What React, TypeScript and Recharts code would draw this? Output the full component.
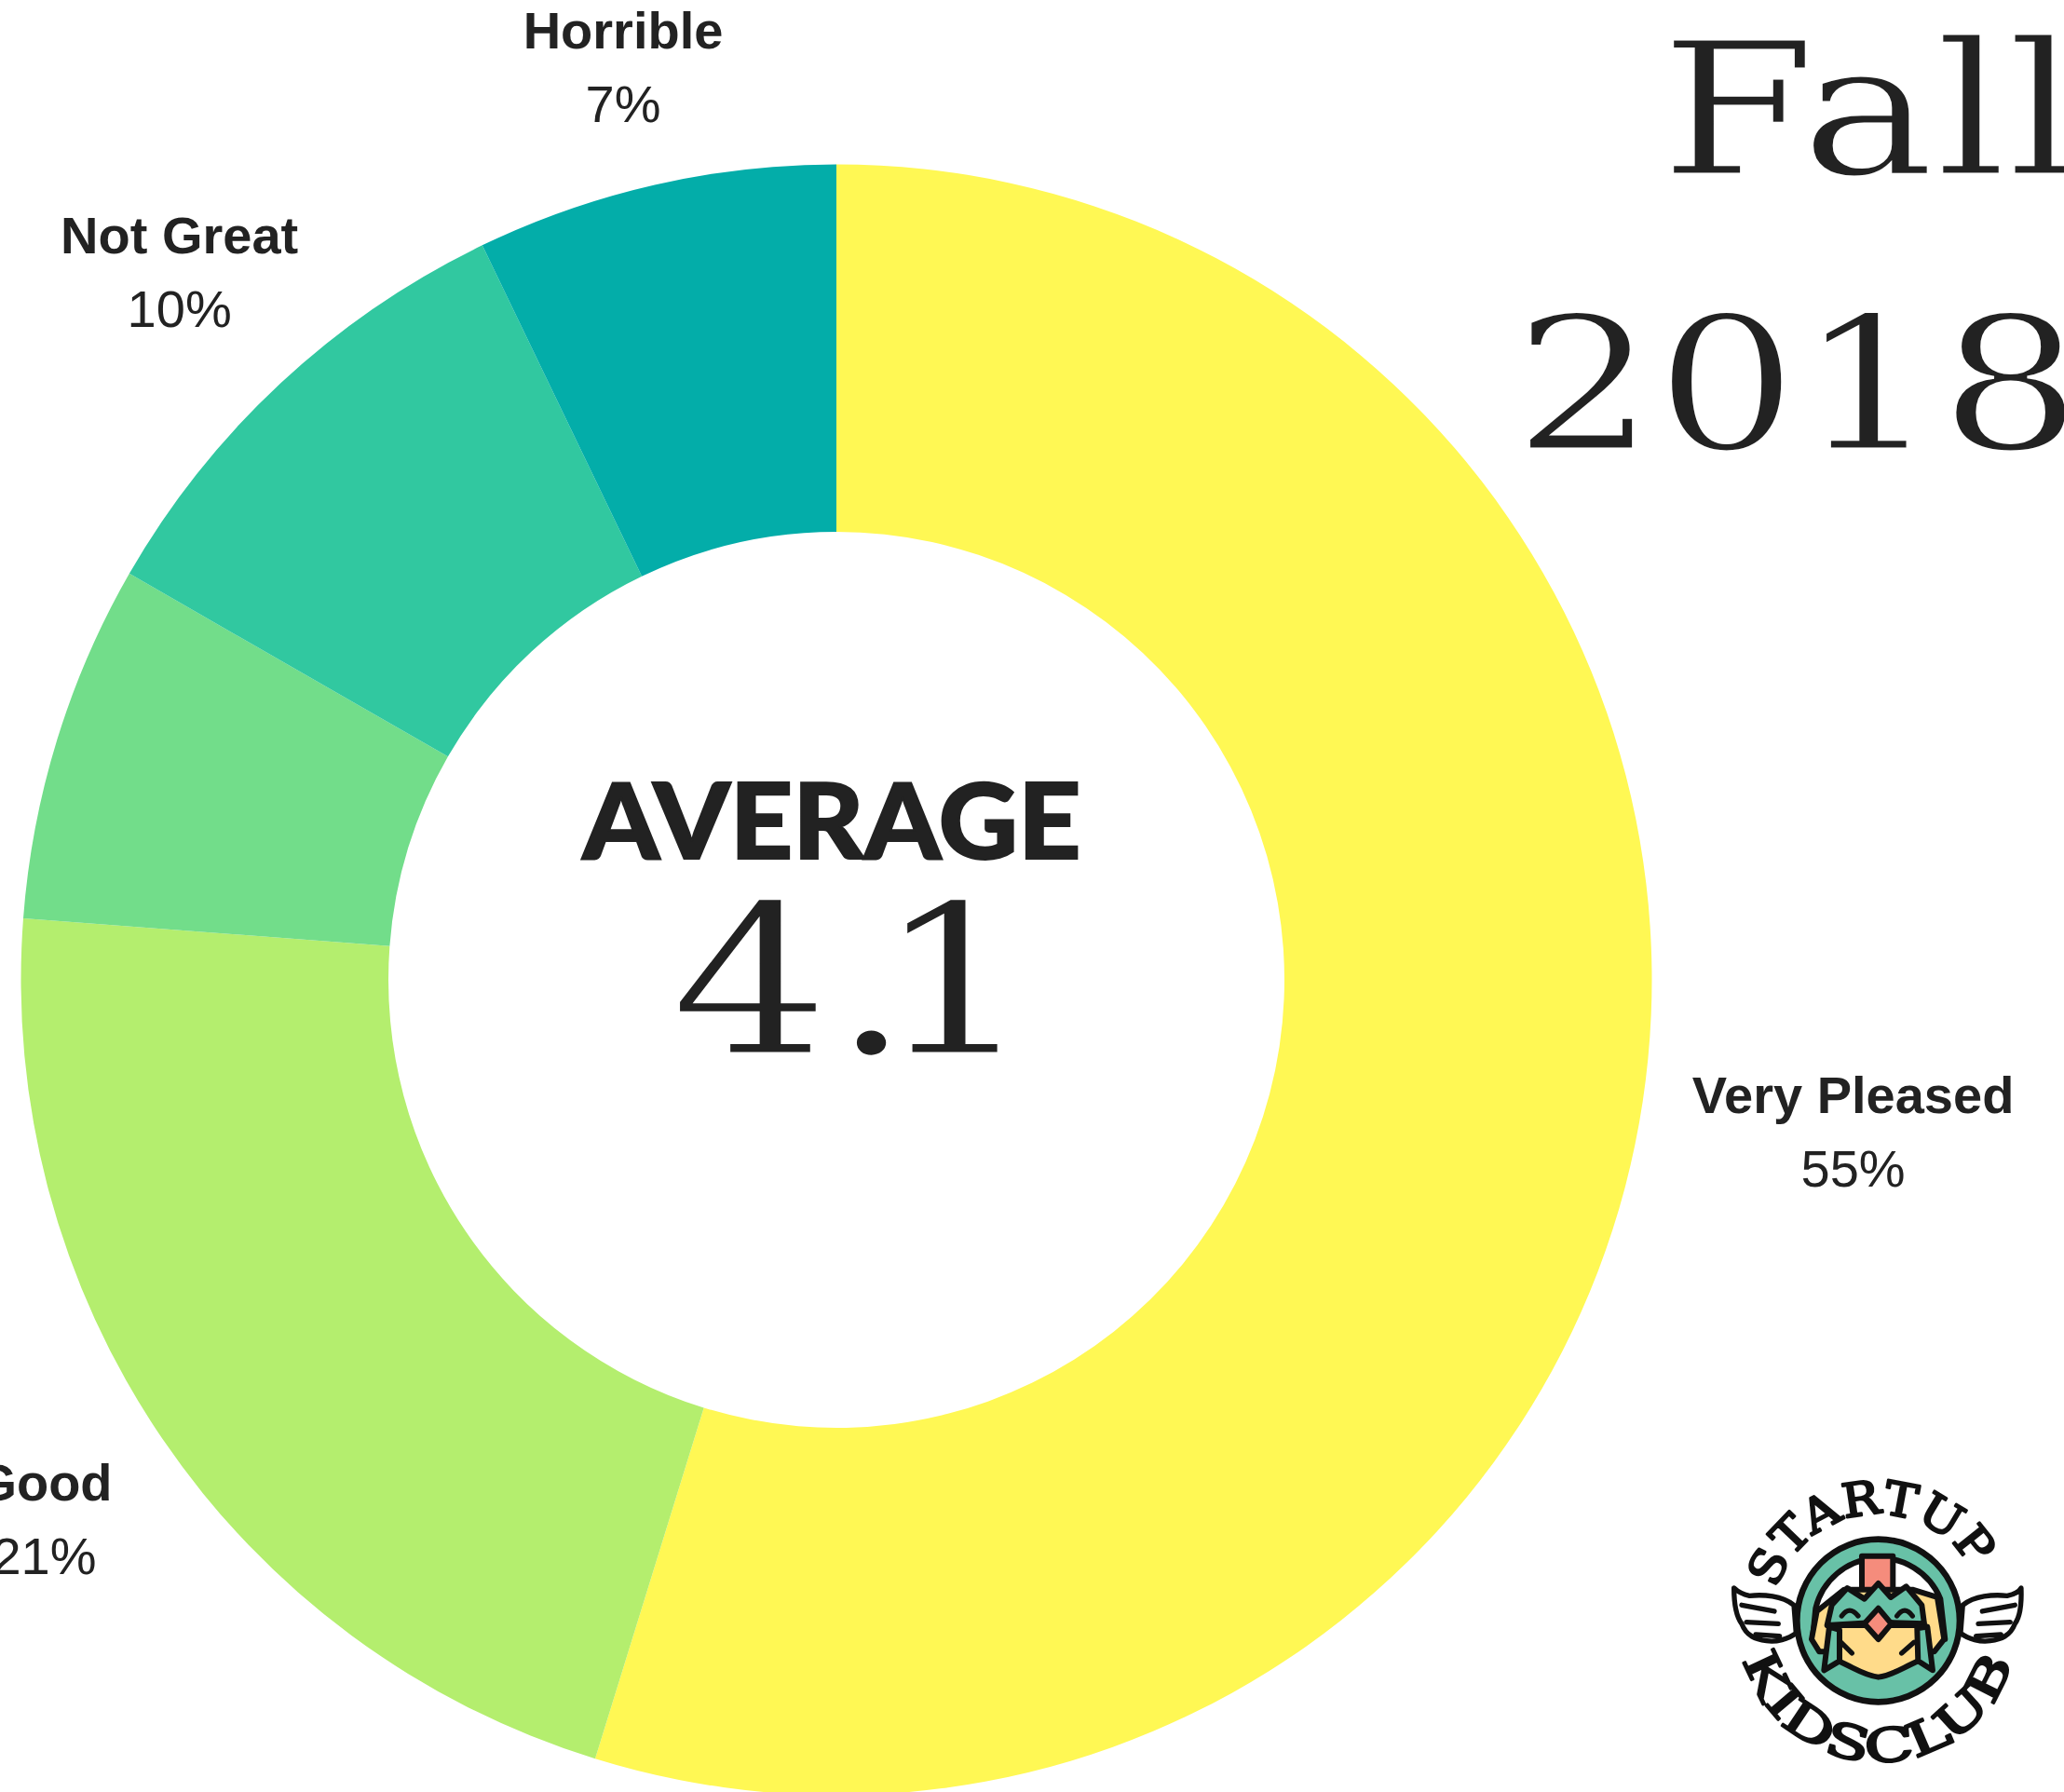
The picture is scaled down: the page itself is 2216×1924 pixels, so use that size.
import React from 'react';
import { PieChart, Pie, Cell } from 'recharts';

const categories = ['Very Pleased', 'Good', '', 'Not Great', 'Horrible'];
const shares = [54.78, 21.42, 7.1, 9.55, 7.15];
const percentLabels = ['55%', '21%', '', '10%', '7%'];
const colors = ['#FFF854', '#B4EE6E', '#72DD8A', '#31C8A0', '#03ADA9'];
const labelRadii = [1104, 1030, 0, 1040, 1010];
const labelNudgeX = [0, 1, 0, 3, -4];
const labelNudgeY = [-1, 1, 0, 2, 6];

const tableData = categories.map((name, i) => ({ name, value: shares[i] }));

const INK = '#222222';
const LINE = '#111111';
const TEAL = '#68C1A7';
const PEACH = '#FFDB8A';
const CORAL = '#F58C7C';

const SliceLabel = (props: any) => {
  const { cx, cy, midAngle, index } = props;
  if (!categories[index]) return null;
  const a = (-midAngle * Math.PI) / 180;
  const x = cx + labelRadii[index] * Math.cos(a) + labelNudgeX[index];
  const y = cy + labelRadii[index] * Math.sin(a) + labelNudgeY[index];
  return (
    <g fontFamily="'Liberation Sans', Arial, sans-serif" textAnchor="middle" fill={INK}>
      <text x={x} y={y - 21} fontSize={56} fontWeight={700}>{categories[index]}</text>
      <text x={x} y={y + 58} fontSize={56}>{percentLabels[index]}</text>
    </g>
  );
};

const Logo = () => (
  <g transform="translate(1820 1560) scale(0.3333)" strokeLinejoin="round" strokeLinecap="round">
    <g fill="#fff" stroke={LINE} strokeWidth={16}>
      <path d="M318 490 C280 460 220 455 175 460 C150 455 135 445 125 435 C125 490 135 530 150 550 C165 590 195 600 230 605 C260 610 300 600 325 580 Z" />
      <path d="M862 490 C900 460 960 455 1005 460 C1030 455 1045 445 1050 435 C1052 490 1045 530 1030 550 C1015 590 985 600 950 605 C920 610 880 600 855 580 Z" />
      <path d="M150 490 L255 510 M165 545 L268 550 M195 585 L272 590 M1030 490 L925 510 M1015 545 L912 550 M985 585 L905 590" fill="none" />
    </g>
    <circle cx={590} cy={540} r={262} fill={TEAL} stroke={LINE} strokeWidth={20} />
    <path d="M378 600 L388 500 A212 212 0 0 1 790 470 L805 600 Z" fill="#fff" stroke={LINE} strokeWidth={18} />
    <rect x={537} y={332} width={100} height={125} fill={CORAL} stroke={LINE} strokeWidth={18} />
    <path d="M375 600 L392 510 L480 440 L700 440 L780 465 L802 600 L770 640 L400 640 Z" fill={PEACH} stroke={LINE} strokeWidth={18} />
    <path d="M460 555 L720 555 L720 670 C670 690 640 715 590 722 C540 715 510 690 460 670 Z" fill={PEACH} stroke={LINE} strokeWidth={18} />
    <path d="M425 555 L440 490 L490 435 L545 470 L590 420 L630 465 L680 430 L730 490 L738 550 L590 545 Z" fill={TEAL} stroke={LINE} strokeWidth={18} />
    <path d="M432 560 L465 570 L465 670 L415 700 Z M715 565 L748 560 L765 700 L718 670 Z" fill={TEAL} stroke={LINE} strokeWidth={18} />
    <path d="M590 500 L632 550 L590 600 L545 550 Z" fill={CORAL} stroke={LINE} strokeWidth={18} />
    <path d="M472 525 Q497 490 525 525 M650 525 Q675 490 700 525 M470 610 L505 645 M705 610 L665 645" fill="none" stroke={LINE} strokeWidth={16} />
    <defs>
      <path id="logoTop" d="M262 440 A343 343 0 0 1 918 440" />
      <path id="logoBottom" d="M150 640 A450 450 0 0 0 1030 640" />
    </defs>
    <g fontFamily="'DejaVu Serif', serif" fontSize={150} fill={LINE} stroke={LINE} strokeWidth={7}>
      <text><textPath href="#logoTop" textLength={800} lengthAdjust="spacingAndGlyphs">STARTUP</textPath></text>
      <text><textPath href="#logoBottom" startOffset={25} textLength={1160} lengthAdjust="spacingAndGlyphs">KIDSCLUB</textPath></text>
    </g>
  </g>
);

export default function App() {
  return (
    <div style={{ position: 'absolute', left: 0, top: 0, width: 2216, height: 1924, overflow: 'hidden', background: '#fff' }}>
      <PieChart width={2216} height={1924} margin={{ top: 0, right: 0, bottom: 0, left: 0 }}>
        <Pie
          data={tableData}
          dataKey="value"
          nameKey="name"
          cx={898}
          cy={1052}
          innerRadius={481}
          outerRadius={875.5}
          startAngle={90}
          endAngle={-270}
          stroke="none"
          isAnimationActive={false}
          labelLine={false}
          label={SliceLabel}
        >
          {tableData.map((d, i) => (
            <Cell key={i} fill={colors[i]} />
          ))}
        </Pie>
      </PieChart>
      <svg width={2216} height={1924} style={{ position: 'absolute', left: 0, top: 0 }}>
        <g fill={INK} fontFamily="'DejaVu Serif', serif">
          <g stroke="#fff" strokeWidth={3}>
            <text x={1782} y={187} fontSize={199} textLength={450} lengthAdjust="spacingAndGlyphs">Fall</text>
            <text x={1625} y={482} fontSize={199} textLength={610} lengthAdjust="spacingAndGlyphs">2018</text>
            <g transform="scale(1.2 1)">
              <text x="600 744 783" y={1131} fontSize={224}>4.1</text>
            </g>
          </g>
          <text x={893} y={922} fontSize={112} fontWeight={900} textAnchor="middle" fontFamily="Lato, sans-serif" stroke={INK} strokeWidth={2} textLength={535} lengthAdjust="spacingAndGlyphs">AVERAGE</text>
        </g>
        <Logo />
      </svg>
    </div>
  );
}
